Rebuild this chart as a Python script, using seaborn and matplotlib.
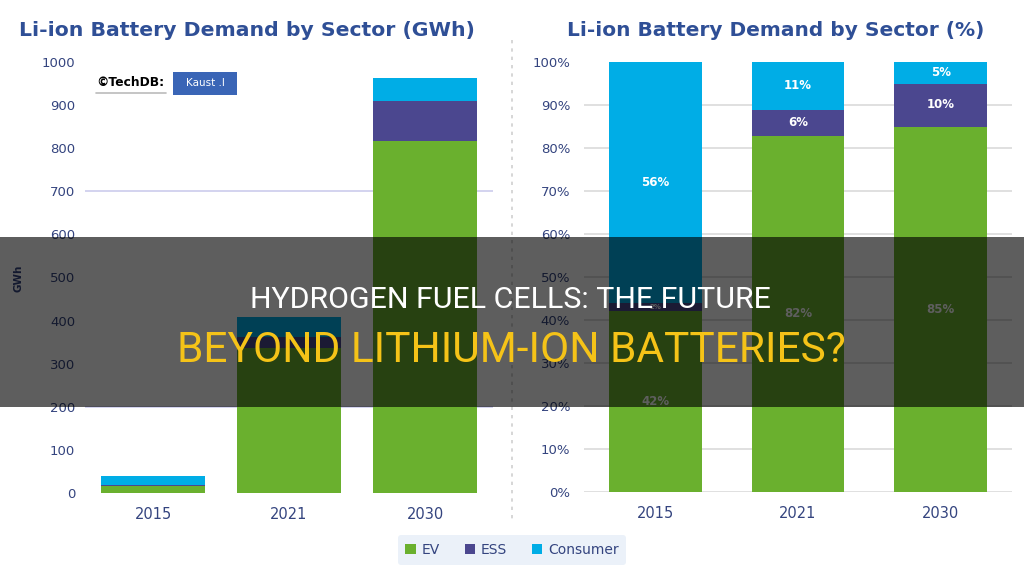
import matplotlib
matplotlib.use("Agg")
import matplotlib.pyplot as plt
import matplotlib.patches as mpatches
from matplotlib.lines import Line2D
import seaborn as sns
import pandas as pd
import numpy as np

# ---------------- data ----------------
years = ["2015", "2021", "2030"]
gwh_ev = [17, 336, 816]
gwh_ess = [1, 25, 93]
gwh_consumer = [22, 48, 54]
pct_ev = [42, 82, 85]
pct_ess = [2, 6, 10]
pct_consumer = [56, 11, 5]
series_names = ["EV", "ESS", "Consumer"]
gwh_ticks = [0, 100, 200, 300, 400, 500, 600, 700, 800, 900, 1000]
pct_ticks = [0, 10, 20, 30, 40, 50, 60, 70, 80, 90, 100]
title_left = "Li-ion Battery Demand by Sector (GWh)"
title_right = "Li-ion Battery Demand by Sector (%)"
banner_line1 = "HYDROGEN FUEL CELLS: THE FUTURE"
banner_line2 = "BEYOND LITHIUM-ION BATTERIES?"

# ---------------- style ----------------
sns.set_theme(style="white")
plt.rcParams["font.family"] = ["DejaVu Sans"]
C_EV = "#6ab02e"
C_ESS = "#4b478f"
C_CON = "#00ade6"
TXT = "#34447f"
TITLE = "#2f4f96"

W, H = 1024, 576
fig = plt.figure(figsize=(W / 100, H / 100), dpi=100)
fig.patch.set_facecolor("white")


def fx(px):
    return px / W


def fy(py):
    return 1 - py / H


axL = fig.add_axes([fx(85), fy(493), fx(493) - fx(85), (493 - 62) / H])
axR = fig.add_axes([fx(584), fy(492), fx(1012) - fx(584), (492 - 62) / H])

# ---------------- left chart (GWh) ----------------
dfL = pd.DataFrame({"year": years, "EV": gwh_ev, "ESS": gwh_ess, "Consumer": gwh_consumer})
dfL["lvl_con"] = dfL["EV"] + dfL["ESS"] + dfL["Consumer"]
dfL["lvl_ess"] = dfL["EV"] + dfL["ESS"]
dfL["lvl_ev"] = dfL["EV"]

for gv in (200, 700):
    axL.axhline(gv, color="#ccccec", lw=1.2, zorder=0)

for col, c in (("lvl_con", C_CON), ("lvl_ess", C_ESS), ("lvl_ev", C_EV)):
    sns.barplot(data=dfL, x="year", y=col, color=c, saturation=1, width=0.76,
                linewidth=0, ax=axL, zorder=2)

axL.set_xlim(-0.5, 2.5)
axL.set_ylim(0, 1000)
axL.set_yticks(gwh_ticks)
axL.set_yticklabels([str(t) for t in gwh_ticks])
axL.set_xlabel("")
axL.set_ylabel("")
axL.tick_params(axis="y", length=0, pad=7, labelsize=9.5, labelcolor=TXT)
axL.tick_params(axis="x", length=0, pad=10, labelsize=10.5, labelcolor=TXT)
for s in axL.spines.values():
    s.set_visible(False)
axL.set_facecolor("none")

# ---------------- right chart (%) ----------------
tot = np.array(pct_ev) + np.array(pct_ess) + np.array(pct_consumer)
dfR = pd.DataFrame({"year": years})
dfR["lvl_con"] = 100.0
dfR["lvl_ess"] = (np.array(pct_ev) + np.array(pct_ess)) / tot * 100
dfR["lvl_ev"] = np.array(pct_ev) / tot * 100

for gv in pct_ticks[:-1]:
    axR.axhline(gv, color="#dadada", lw=1.2, zorder=0)

for col, c in (("lvl_con", C_CON), ("lvl_ess", C_ESS), ("lvl_ev", C_EV)):
    sns.barplot(data=dfR, x="year", y=col, color=c, saturation=1, width=0.65,
                linewidth=0, ax=axR, zorder=2)

# segment labels
for i in range(3):
    ev_top = dfR["lvl_ev"][i]
    ess_top = dfR["lvl_ess"][i]
    axR.text(i, ev_top / 2, f"{pct_ev[i]}%", ha="center", va="center",
             color="white", fontsize=8.5, fontweight="bold", zorder=5)
    axR.text(i, (ev_top + ess_top) / 2, f"{pct_ess[i]}%", ha="center", va="center",
             color="white", fontsize=8.5 if pct_ess[i] > 3 else 5, fontweight="bold", zorder=5)
    axR.text(i, (ess_top + 100) / 2, f"{pct_consumer[i]}%", ha="center", va="center",
             color="white", fontsize=8.5, fontweight="bold", zorder=5)

axR.set_xlim(-0.5, 2.5)
axR.set_ylim(0, 100)
axR.set_yticks(pct_ticks)
axR.set_yticklabels([f"{t}%" for t in pct_ticks])
axR.set_xlabel("")
axR.set_ylabel("")
axR.tick_params(axis="y", length=0, pad=10, labelsize=9.5, labelcolor=TXT)
axR.tick_params(axis="x", length=0, pad=10, labelsize=10.5, labelcolor=TXT)
for s in axR.spines.values():
    s.set_visible(False)
axR.set_facecolor("none")

# ---------------- figure annotations ----------------
fig.text(fx(18), fy(278), "GWh", rotation=90, ha="center", va="center",
         color=TXT, fontsize=7.5, fontweight="bold")

tL = fig.text(fx(247), fy(31), title_left, ha="center", va="center",
              color=TITLE, fontsize=15, fontweight="bold")
tR = fig.text(fx(776), fy(31), title_right, ha="center", va="center",
              color=TITLE, fontsize=15, fontweight="bold")

# watermark
fig.text(fx(96), fy(83), "©TechDB:", ha="left", va="center", color="black",
         fontsize=8.8, fontweight="bold")
fig.add_artist(Line2D([fx(96), fx(166)], [fy(93), fy(93)], transform=fig.transFigure,
                      color="#bbbbbb", lw=1.2))
fig.patches.append(mpatches.Rectangle((fx(173), fy(95)), fx(237) - fx(173), (95 - 72) / H,
                                      transform=fig.transFigure, facecolor="#3a65b6",
                                      edgecolor="none", zorder=3))
fig.text(fx(205), fy(83), "Kaust .l", ha="center", va="center", color="white",
         fontsize=7.5, zorder=4)

# separator
fig.add_artist(Line2D([fx(512), fx(512)], [fy(40), fy(522)], transform=fig.transFigure,
                      color="#d0d0d0", lw=1.2, linestyle=(0, (2, 3))))

# legend
handles = [mpatches.Patch(facecolor=c, edgecolor="none", label=n)
           for c, n in zip((C_EV, C_ESS, C_CON), series_names)]
leg = fig.legend(handles=handles, loc="center", bbox_to_anchor=(fx(512), fy(550)),
                 ncol=3, frameon=True, fontsize=10, handlelength=0.75, handleheight=0.75,
                 handletextpad=0.4, columnspacing=1.8, borderpad=0.55)
leg.get_frame().set_facecolor("#e6eef8")
leg.get_frame().set_edgecolor("none")
for t in leg.get_texts():
    t.set_color(TXT)

# banner overlay
fig.patches.append(mpatches.Rectangle((0, fy(407)), 1, (407 - 237) / H,
                                      transform=fig.transFigure, facecolor="black",
                                      alpha=0.63, edgecolor="none", zorder=10))
b1 = fig.text(fx(510), fy(300), banner_line1, ha="center", va="center", color="white",
              fontsize=20, family=["Liberation Sans Narrow", "Roboto", "DejaVu Sans"], zorder=11)
b2 = fig.text(fx(511), fy(351), banner_line2, ha="center", va="center", color="#f5c318",
              fontsize=26, family=["Liberation Sans Narrow", "Roboto", "DejaVu Sans"], zorder=11)

# fit widths
fig.canvas.draw()
r = fig.canvas.get_renderer()
for t, target in ((tL, 455), (tR, 418), (b1, 519), (b2, 670)):
    w = t.get_window_extent(r).width
    t.set_fontsize(t.get_fontsize() * target / w)

fig.savefig("out.png", dpi=100, facecolor="white")
